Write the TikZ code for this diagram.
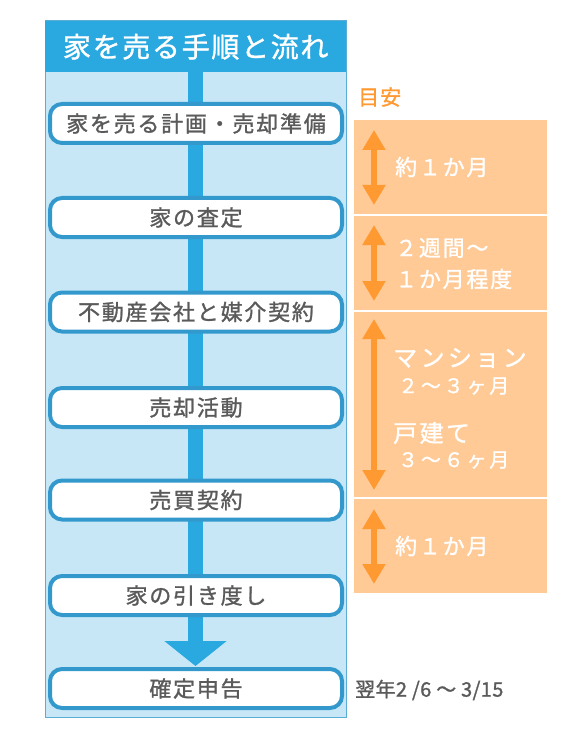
\documentclass[tikz,border=0pt]{standalone}
\usepackage{fontspec}
\setmainfont{Noto Sans CJK JP}[FakeBold=1.2]
\usetikzlibrary{arrows.meta}
\definecolor{titleblue}{HTML}{2AA9E0}
\definecolor{paleblue}{HTML}{C7E7F7}
\definecolor{boxblue}{HTML}{3399CC}
\definecolor{peach}{HTML}{FFCA96}
\definecolor{spanorange}{HTML}{FF9A33}
\definecolor{inkgray}{HTML}{5A5A5A}
\newcommand{\jpsize}[2]{\fontsize{#1}{#1}\selectfont\addfontfeatures{LetterSpace=#2}}
\tikzset{
  stepbox/.style={draw=boxblue, line width=4pt, fill=white, rounded corners=12pt,
    minimum width=292pt, minimum height=39pt, inner sep=0pt, text=inkgray, font={\jpsize{22}{8}}},
  span/.style={fill=peach, minimum width=193pt, inner sep=0pt, anchor=north west},
  spanarrow/.style={{Triangle[width=22pt,length=20pt]}-{Triangle[width=22pt,length=20pt]},
    line width=6pt, spanorange},
  spantext/.style={text=white, anchor=west, inner sep=0pt, font={\jpsize{22}{8}}}
}
\begin{document}
\begin{tikzpicture}[x=1pt,y=-1pt]
  \useasboundingbox (0,0) rectangle (570,735);
  % flow panel
  \draw[boxblue!80, line width=1pt, fill=paleblue] (45,21) rectangle (346,717);
  \node[fill=titleblue, minimum width=301pt, minimum height=51pt, inner sep=0pt, anchor=north west,
    text=white, font={\jpsize{28}{6}}] (title) at (45,21) {家を売る手順と流れ};
  \coordinate (tip) at (195.5,666);
  \draw[titleblue, line width=15pt, -{Triangle[width=61pt,length=25pt]}] (title.south -| tip) -- (tip);
  % steps
  \node[stepbox] (plan) at (196,123.5) {家を売る計画・売却準備};
  \node[stepbox] (appraisal) at (196,217.5) {家の査定};
  \node[stepbox] (mediation) at (196,312) {不動産会社と媒介契約};
  \node[stepbox] (marketing) at (196,407.5) {売却活動};
  \node[stepbox] (contract) at (196,500) {売買契約};
  \node[stepbox] (handover) at (196,595.5) {家の引き度し};
  \node[stepbox] (taxreturn) at (196,688.5) {確定申告};
  % time spans
  \node[text=spanorange, anchor=west, inner sep=0pt, font={\jpsize{21}{5}}] (guide) at (358,97) {目安};
  \node[span, minimum height=94pt] (span1) at (354,120) {};
  \node[span, minimum height=94pt] (span2) at (354,216) {};
  \node[span, minimum height=185pt] (span3) at (354,312) {};
  \node[span, minimum height=94pt] (span4) at (354,499) {};
  \coordinate (s1top) at (374,130);
  \coordinate (s1bot) at (374,205);
  \coordinate (s2top) at (374,225);
  \coordinate (s2bot) at (374,301);
  \coordinate (s3top) at (374,319);
  \coordinate (s3bot) at (374,490);
  \coordinate (s4top) at (374,509);
  \coordinate (s4bot) at (374,584);
  \draw[spanarrow] (s1top) -- (s1bot);
  \draw[spanarrow] (s2top) -- (s2bot);
  \draw[spanarrow] (s3top) -- (s3bot);
  \draw[spanarrow] (s4top) -- (s4bot);
  \node[spantext] (time1) at (395,167) {約１か月};
  \node[spantext] (time2a) at (395,248) {２週間～};
  \node[spantext] (time2b) at (395,279) {１か月程度};
  \node[spantext, font={\jpsize{24}{14}}] (time3a) at (393,358) {マンション};
  \node[spantext, font={\jpsize{20}{14}}] (time3b) at (398,386) {２～３ヶ月};
  \node[spantext, font={\jpsize{24}{10}}] (time3c) at (393,433) {戸建て};
  \node[spantext, font={\jpsize{20}{14}}] (time3d) at (398,460) {３～６ヶ月};
  \node[spantext] (time4) at (395,546) {約１か月};
  \node[text=inkgray, anchor=west, inner sep=0pt, font={\jpsize{20}{2}}] (deadline) at (355,690) {翌年2 /6 ～ 3/15};
\end{tikzpicture}
\end{document}
